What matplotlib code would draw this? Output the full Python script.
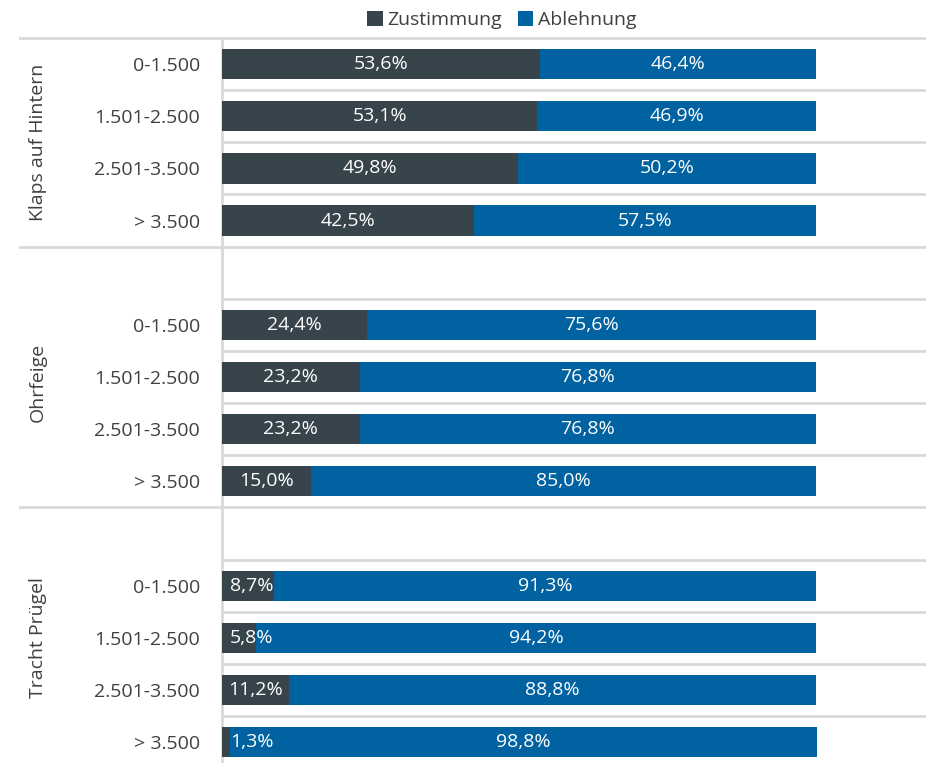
import numpy as np
import matplotlib
matplotlib.use('Agg')
import matplotlib.pyplot as plt

plt.rcParams['font.family'] = ['Open Sans', 'DejaVu Sans']

groups = ['Klaps auf Hintern', 'Ohrfeige', 'Tracht Prügel']
incomes = ['0-1.500', '1.501-2.500', '2.501-3.500', '> 3.500']
zustimmung = [[53.6, 53.1, 49.8, 42.5],
              [24.4, 23.2, 23.2, 15.0],
              [8.7, 5.8, 11.2, 1.3]]
ablehnung = [[46.4, 46.9, 50.2, 57.5],
             [75.6, 76.8, 76.8, 85.0],
             [91.3, 94.2, 88.8, 98.8]]

c_dark = '#37444b'
c_blue = '#0062a0'
c_grid = '#d9d9d9'
c_text = '#404040'

fig = plt.figure(figsize=(9.26, 7.63), dpi=100)
ax = fig.add_axes([222/926, 0, 1 - 222/926, 1 - 38/763])

# row positions: 4 rows, blank, 4 rows, blank, 4 rows
ypos = []
labels = []
zs = []
ab = []
row = 0
for g in range(3):
    if g > 0:
        row += 1
    for i in range(4):
        ypos.append(row)
        labels.append(incomes[i])
        zs.append(zustimmung[g][i])
        ab.append(ablehnung[g][i])
        row += 1
ypos = np.array(ypos)
zs = np.array(zs)
ab = np.array(ab)

h = 0.58
ax.barh(ypos, zs, height=h, color=c_dark, label='Zustimmung', zorder=3)
ax.barh(ypos, ab, left=zs, height=h, color=c_blue, label='Ablehnung', zorder=3)

fs = 14
for y, z, a in zip(ypos, zs, ab):
    ax.text(max(z / 2, 5.0), y, ('%.1f%%' % z).replace('.', ','), ha='center', va='center',
            color='white', fontsize=fs, zorder=4)
    ax.text(z + a / 2, y, ('%.1f%%' % a).replace('.', ','), ha='center', va='center',
            color='white', fontsize=fs, zorder=4)

ax.set_xlim(0, 118.5)
ax.set_ylim(13.4, -0.5)
ax.set_xticks([])
ax.set_yticks(ypos)
ax.set_yticklabels(labels, fontsize=fs, color=c_text)
ax.tick_params(axis='y', length=0, pad=16)
for s in ['top', 'right', 'bottom']:
    ax.spines[s].set_visible(False)
ax.spines['left'].set_color(c_grid)
ax.spines['left'].set_linewidth(2)

# separators (blank row opens groups 2 and 3)
trans = ax.get_yaxis_transform()
group_edges = [-0.5, 3.5, 8.5]
for r in range(14):
    yline = r - 0.5
    x0 = -202/704 if yline in group_edges else 0
    ax.plot([x0, 1], [yline, yline], transform=trans, color=c_grid,
            lw=2, clip_on=False, zorder=1)

# group labels
centers = [1.5, 6.1, 11.0]
for g, yc in zip(groups, centers):
    ax.text(-184/704, yc, g, transform=trans, rotation=90, ha='center', va='center',
            fontsize=fs, color=c_text)

fig.legend(loc='center', bbox_to_anchor=(502/926, 1 - 20/763), ncol=2, frameon=False,
           fontsize=fs, handlelength=0.8, handleheight=0.8, handletextpad=0.25,
           columnspacing=0.8, labelcolor=c_text)

plt.savefig('out.png', dpi=100)
